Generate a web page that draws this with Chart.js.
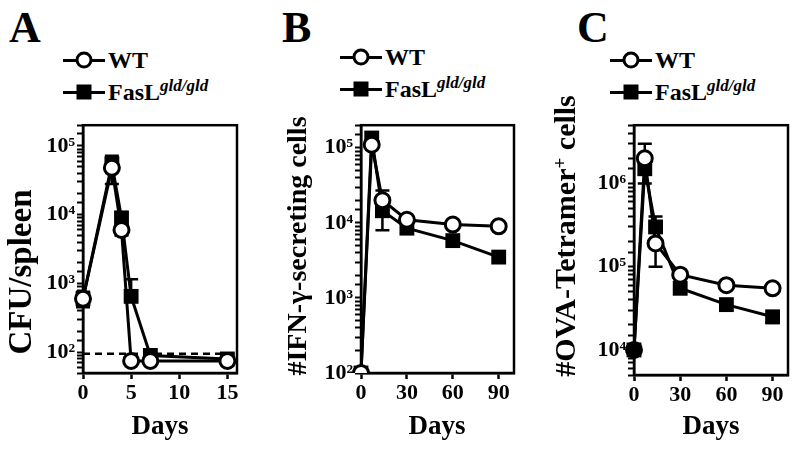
<!DOCTYPE html>
<html>
<head>
<meta charset="utf-8">
<script src="https://cdn.jsdelivr.net/npm/chart.js@4.4.1/dist/chart.umd.min.js"></script>
<style>
  body { margin: 0; width: 800px; height: 451px; position: relative; overflow: hidden; background: #fff;
         font-family: "Liberation Serif", "Times New Roman", serif; font-weight: bold; color: #000; }
  canvas { position: absolute; }
  .abs { position: absolute; z-index: 2; white-space: nowrap; }
  .letter { font-size: 44px; line-height: 44px; }
  .legend { font-size: 24px; line-height: 32px; }
  .sample { display: inline-block; position: relative; width: 42px; height: 18px; margin-right: 3px; vertical-align: -1px; }
  .sample::before { content: ''; position: absolute; left: 0; right: 0; top: 7.5px; height: 3px; background: #000; }
  .sample i { position: absolute; left: 50%; top: 50%; transform: translate(-50%, -50%); box-sizing: border-box; }
  .circ { width: 17px; height: 17px; border: 3px solid #000; border-radius: 50%; background: #fff; }
  .sq { width: 15px; height: 15px; background: #000; }
  sup { font-style: italic; font-size: 17px; vertical-align: 9px; line-height: 0; }
  .ytitle { width: 340px; height: 36px; line-height: 36px; text-align: center; transform: rotate(-90deg); }
  .xtitle { width: 120px; text-align: center; font-size: 27px; line-height: 30px; }
</style>
</head>
<body>

<div class="abs letter" style="left:9px; top:6px">A</div>
<div class="abs letter" style="left:282px; top:6px">B</div>
<div class="abs letter" style="left:577px; top:6px">C</div>

<div class="abs legend" style="left:63px; top:44px">
  <div><span class="sample"><i class="circ"></i></span>WT</div>
  <div><span class="sample"><i class="sq"></i></span>FasL<sup>gld/gld</sup></div>
</div>
<div class="abs legend" style="left:340px; top:41px">
  <div><span class="sample"><i class="circ"></i></span>WT</div>
  <div><span class="sample"><i class="sq"></i></span>FasL<sup>gld/gld</sup></div>
</div>
<div class="abs legend" style="left:610px; top:44px">
  <div><span class="sample"><i class="circ"></i></span>WT</div>
  <div><span class="sample"><i class="sq"></i></span>FasL<sup>gld/gld</sup></div>
</div>

<div class="abs ytitle" style="left:-150px; top:254px; font-size:33px">CFU/spleen</div>
<div class="abs ytitle" style="left:127px; top:228px; font-size:28px">#IFN-γ-secreting cells</div>
<div class="abs ytitle" style="left:395px; top:218px; font-size:30px">#OVA-Tetramer<sup style="font-style:normal;font-size:19px">+</sup> cells</div>

<div class="abs xtitle" style="left:100px; top:410px">Days</div>
<div class="abs xtitle" style="left:377px; top:410px">Days</div>
<div class="abs xtitle" style="left:651px; top:410px">Days</div>

<canvas id="chartA" width="250" height="341" style="left:0px; top:110px"></canvas>
<canvas id="chartB" width="250" height="341" style="left:275px; top:110px"></canvas>
<canvas id="chartC" width="255" height="341" style="left:545px; top:110px"></canvas>

<script>
// == 데이터 == //
// A: CFU/spleen
const daysA = [0, 3, 4, 5, 7, 15];
const wtA = [600, 48000, 6000, 75, 75, 75];
const fasA = [600, 55000, 9000, 650, 90, 80];
const wtAHi = [760, null, null, null, null, null];
const wtALo = [450, null, null, null, null, null];
const fasAHi = [null, 72000, null, 1150, null, null];
const fasALo = [null, 28000, 5000, null, null, null];
const limitA = 95;
const xTicksA = [0, 5, 10, 15];

// B: IFN-γ secreting cells
const daysB = [0, 7, 14, 30, 60, 90];
const wtB = [100, 110000, 20000, 11000, 9500, 9000];
const fasB = [100, 135000, 14500, 8500, 5800, 3500];
const wtBHi = [null, null, 27000, null, null, null];
const fasBLo = [null, null, 8000, null, null, null];
const xTicksB = [0, 30, 60, 90];

// C: OVA-Tetramer+ cells
const daysC = [0, 7, 14, 30, 60, 90];
const wtC = [10000, 2000000, 190000, 80000, 60000, 55000];
const fasC = [10000, 1500000, 300000, 55000, 35000, 25000];
const wtCHi = [null, 3000000, null, null, null, null];
const wtCLo = [null, null, 100000, null, null, null];
const fasCHi = [null, null, 400000, null, null, null];
const fasCLo = [null, 1000000, null, null, null, 21000];
const xTicksC = [0, 30, 60, 90];

const FONT = '"Liberation Serif", "Times New Roman", serif';
const SUP = { 2: '²', 3: '³', 4: '⁴', 5: '⁵', 6: '⁶' };

function pts(xs, ys) {
  return xs.map((x, i) => ({ x: x, y: ys[i] }));
}

// == 에러바 / 테두리 플러그인 == //
const errorBars = {
  id: 'errorBars',
  beforeDatasetsDraw(chart) {
    const ctx = chart.ctx;
    const yScale = chart.scales.y;
    chart.data.datasets.forEach((ds, i) => {
      if (!ds.errLo && !ds.errHi) return;
      const meta = chart.getDatasetMeta(i);
      ctx.save();
      ctx.strokeStyle = '#000';
      ctx.lineWidth = 2.5;
      meta.data.forEach((pt, j) => {
        [ds.errLo, ds.errHi].forEach((arr) => {
          if (!arr || arr[j] == null) return;
          const yy = yScale.getPixelForValue(arr[j]);
          ctx.beginPath();
          ctx.moveTo(pt.x, pt.y);
          ctx.lineTo(pt.x, yy);
          ctx.moveTo(pt.x - 7, yy);
          ctx.lineTo(pt.x + 7, yy);
          ctx.stroke();
        });
      });
      ctx.restore();
    });
  }
};

const frame = {
  id: 'frame',
  beforeDatasetsDraw(chart) {
    const a = chart.chartArea;
    const ctx = chart.ctx;
    ctx.save();
    ctx.strokeStyle = '#000';
    ctx.lineWidth = 2.5;
    ctx.strokeRect(a.left, a.top, a.right - a.left, a.bottom - a.top);
    ctx.restore();
  }
};

function wtSet(xs, ys, lo, hi, extra) {
  return Object.assign({
    label: 'WT',
    data: pts(xs, ys),
    borderColor: '#000',
    borderWidth: 3,
    pointStyle: 'circle',
    pointRadius: 7.5,
    pointBorderWidth: 3,
    pointBackgroundColor: '#fff',
    pointBorderColor: '#000',
    errLo: lo,
    errHi: hi,
    clip: false
  }, extra || {});
}

function fasSet(xs, ys, lo, hi, extra) {
  return Object.assign({
    label: 'FasL gld/gld',
    data: pts(xs, ys),
    borderColor: '#000',
    borderWidth: 3,
    pointStyle: 'rect',
    pointRadius: 10.5,
    pointBorderWidth: 0,
    pointBackgroundColor: '#000',
    pointBorderColor: '#000',
    errLo: lo,
    errHi: hi,
    clip: false
  }, extra || {});
}

function makeChart(id, datasets, xTicks, xMax, yMin, yMax, yWidth, xHeight, padTop, padRight) {
  return new Chart(document.getElementById(id), {
    type: 'line',
    data: { datasets: datasets },
    plugins: [frame, errorBars],
    options: {
      responsive: false,
      animation: false,
      layout: { padding: { top: padTop, right: padRight, left: 0, bottom: 0 } },
      plugins: { legend: { display: false }, tooltip: { enabled: false } },
      scales: {
        x: {
          type: 'linear',
          min: 0,
          max: xMax,
          afterBuildTicks: (s) => { s.ticks = xTicks.map((v) => ({ value: v })); },
          afterFit: (s) => { s.height = xHeight; },
          border: { display: true, color: '#000', width: 2.5 },
          grid: { display: true, drawOnChartArea: false, drawTicks: true, tickLength: 6, tickWidth: 2.5, tickColor: '#000' },
          ticks: { color: '#000', font: { family: FONT, size: 22, weight: 'bold' }, padding: 1, autoSkip: false, maxRotation: 0 }
        },
        y: {
          type: 'logarithmic',
          min: yMin,
          max: yMax,
          afterFit: (s) => { s.width = yWidth; },
          border: { display: true, color: '#000', width: 2.5 },
          grid: { display: true, drawOnChartArea: false, drawTicks: true, tickLength: 6, tickWidth: 2, tickColor: '#000' },
          ticks: {
            color: '#000',
            font: { family: FONT, size: 22, weight: 'bold' },
            padding: 2,
            autoSkip: false,
            callback: (v) => {
              const e = Math.log10(v);
              if (Math.abs(e - Math.round(e)) < 1e-9) return '10' + SUP[Math.round(e)];
              return '';
            }
          }
        }
      }
    }
  });
}

// == 차트 A == //
makeChart('chartA', [
  wtSet(daysA, wtA, wtALo, wtAHi),
  fasSet(daysA, fasA, fasALo, fasAHi),
  {
    label: 'limit',
    data: [{ x: 0, y: limitA }, { x: 16, y: limitA }],
    borderColor: '#000',
    borderWidth: 2.5,
    borderDash: [7, 5],
    pointRadius: 0
  }
], xTicksA, 16, 50, 200000, 83, 78, 8, 13);

// == 차트 B == //
makeChart('chartB', [
  wtSet(daysB, wtB, null, wtBHi, { clip: { left: 20, top: 20, right: 20, bottom: 0 } }),
  fasSet(daysB, fasB, fasBLo, null, { clip: { left: 20, top: 20, right: 20, bottom: 0 } })
], xTicksB, 100, 100, 200000, 86, 78, 8, 11);

// == 차트 C == //
makeChart('chartC', [
  wtSet(daysC, wtC, wtCLo, wtCHi, { pointBackgroundColor: ['#000', '#fff', '#fff', '#fff', '#fff', '#fff'] }),
  fasSet(daysC, fasC, fasCLo, fasCHi)
], xTicksC, 100, 5000, 5000000, 89, 76, 8, 12);
</script>
</body>
</html>
